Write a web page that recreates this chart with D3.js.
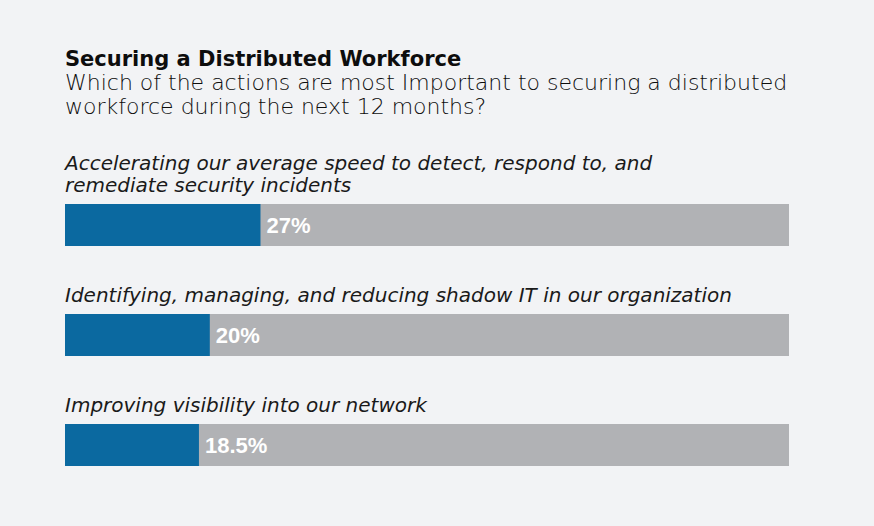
<!DOCTYPE html>
<html>
<head>
<meta charset="utf-8">
<script src="https://cdn.jsdelivr.net/npm/d3@7"></script>
<style>
  html, body { margin: 0; padding: 0; background: #f2f3f5; }
  svg { display: block; }
</style>
</head>
<body>
<svg id="chart" width="874" height="526"></svg>
<script>
// Daten
const title = "Securing a Distributed Workforce";
const subtitle = [
  "Which of the actions are most Important to securing a distributed",
  "workforce during the next 12 months?"
];
const categories = [
  ["Accelerating our average speed to detect, respond to, and", "remediate security incidents"],
  ["Identifying, managing, and reducing shadow IT in our organization"],
  ["Improving visibility into our network"]
];
const values = [27, 20, 18.5];
const valueLabels = ["27%", "20%", "18.5%"];

const svg = d3.select("#chart");
const width = 874, height = 526;

const x = d3.scaleLinear().domain([0, 100]).range([65, 789]);
const y = d3.scaleBand().domain(d3.range(values.length)).range([204, 534]).paddingInner(0);
const barH = 42;

// Titel
svg.append("text")
  .attr("x", 65).attr("y", 66)
  .attr("font-family", "DejaVu Sans")
  .attr("font-weight", "bold")
  .attr("font-size", 21)
  .attr("fill", "#0d0d0d")
  .text(title);

svg.append("g").selectAll("text")
  .data(subtitle)
  .join("text")
  .attr("x", 65)
  .attr("y", (d, i) => 90 + i * 24)
  .attr("font-family", "DejaVu Sans")
  .attr("font-weight", 200)
  .attr("font-size", 22)
  .attr("fill", "#0d0d0d")
  .text(d => d);

const rows = svg.append("g").selectAll("g")
  .data(values)
  .join("g")
  .attr("transform", (d, i) => `translate(0,${y(i)})`);

// Beschriftung
rows.each(function(d, i) {
  const lines = categories[i];
  d3.select(this).selectAll("text.cat")
    .data(lines)
    .join("text")
    .attr("class", "cat")
    .attr("x", 65)
    .attr("y", (l, j) => -12 - (lines.length - 1 - j) * 22)
    .attr("font-family", "DejaVu Sans")
    .attr("font-style", "italic")
    .attr("font-size", 20)
    .attr("fill", "#1a1a1a")
    .text(l => l);
});

// Hintergrundbalken
rows.append("rect")
  .attr("x", x(0))
  .attr("y", 0)
  .attr("width", x(100) - x(0))
  .attr("height", barH)
  .attr("fill", "#b1b2b5");

// Wertbalken
rows.append("rect")
  .attr("x", x(0))
  .attr("y", 0)
  .attr("width", d => x(d) - x(0))
  .attr("height", barH)
  .attr("fill", "#0b69a0");

rows.append("text")
  .attr("x", d => x(d) + 6)
  .attr("y", barH / 2 + 8)
  .attr("font-family", "Liberation Sans")
  .attr("font-weight", "bold")
  .attr("font-size", 22)
  .attr("fill", "#fff")
  .text((d, i) => valueLabels[i]);
</script>
</body>
</html>
